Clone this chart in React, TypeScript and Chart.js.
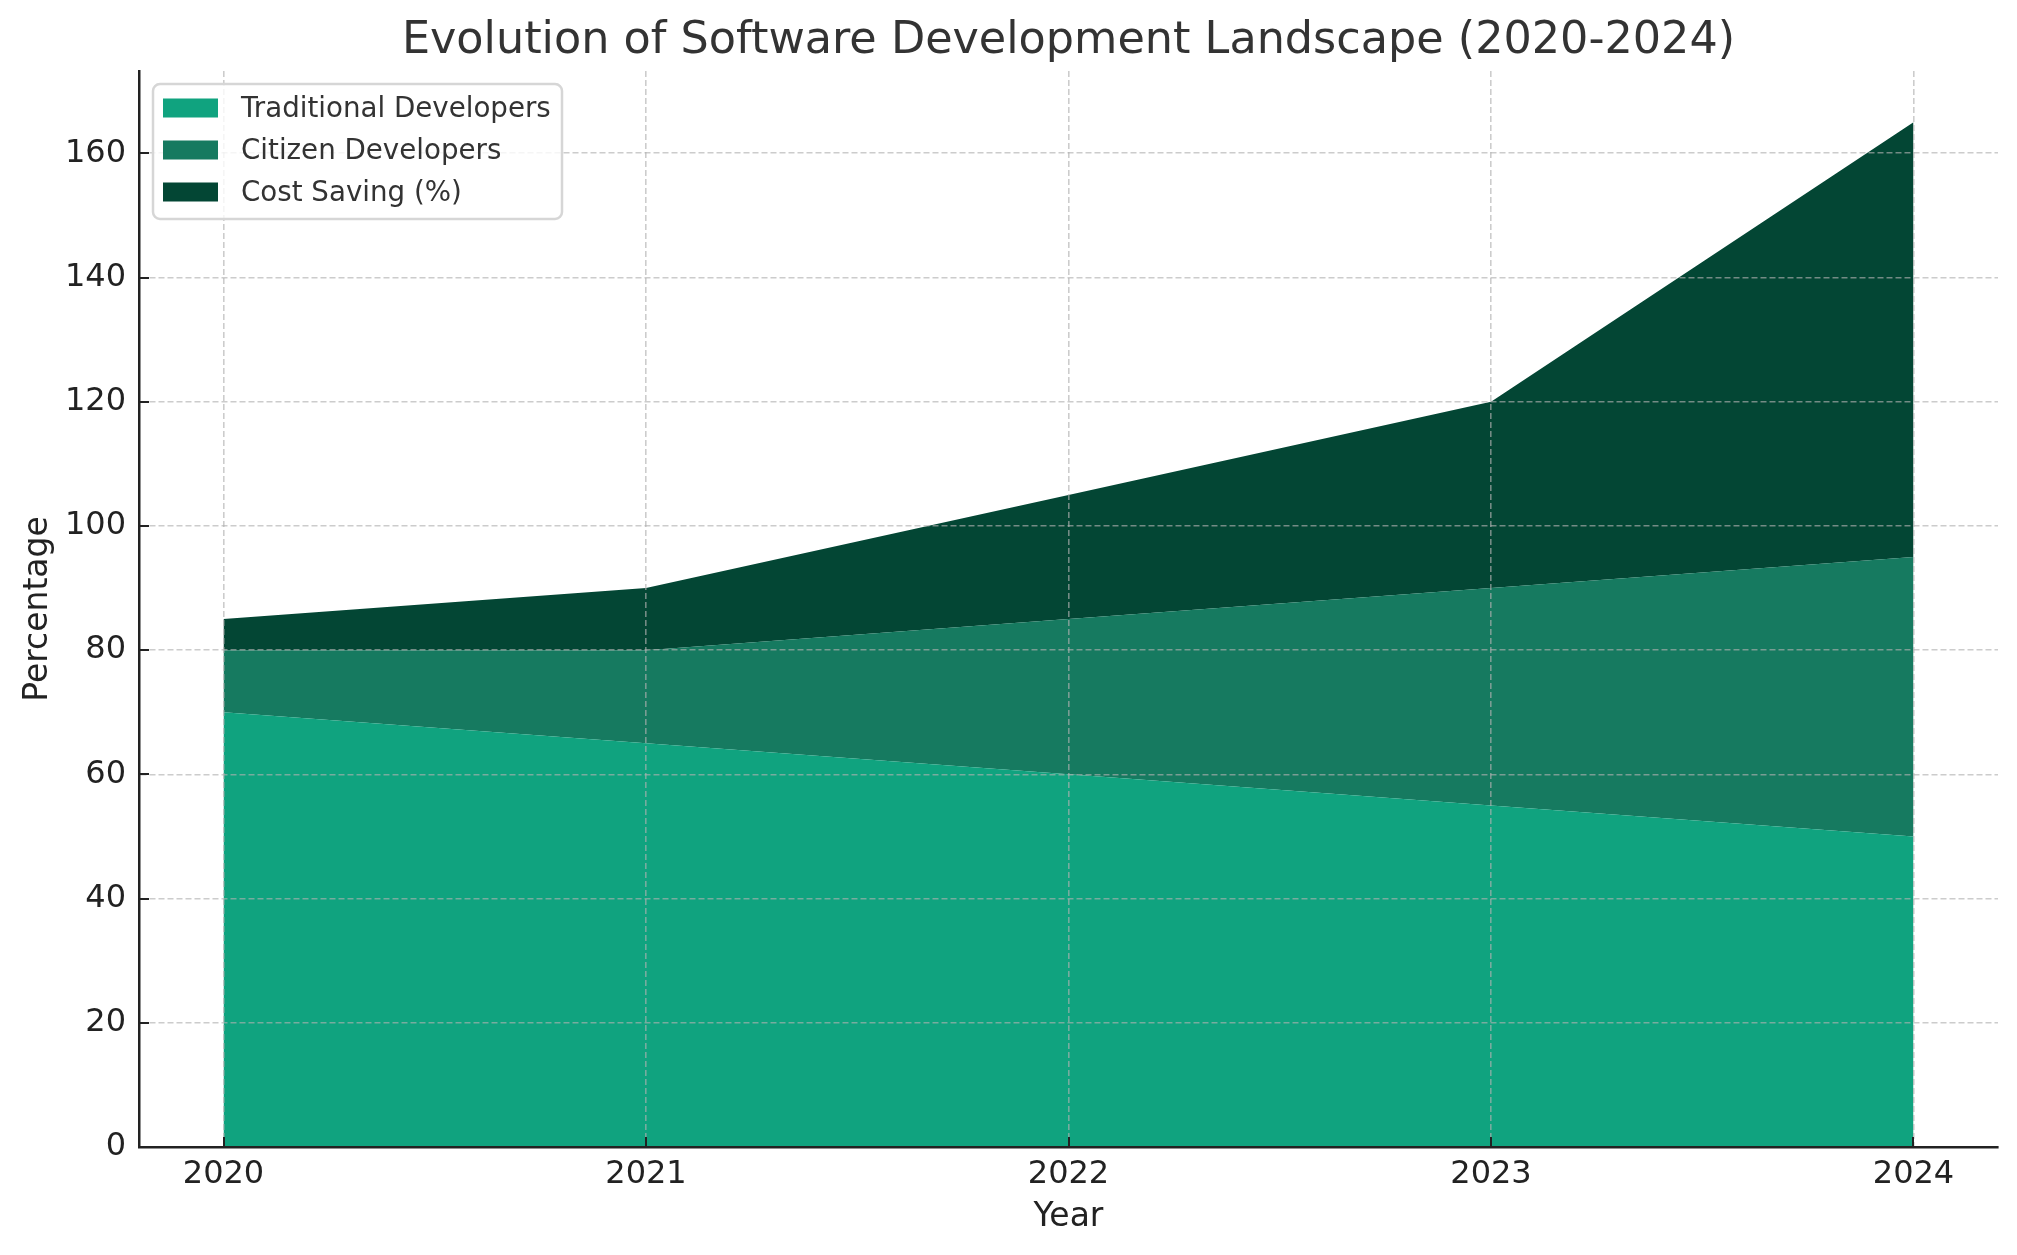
import { useEffect, useRef } from "react";
import { Chart, registerables } from "chart.js";

Chart.register(...registerables);

const years = [2020, 2021, 2022, 2023, 2024];
const traditional = [70, 65, 60, 55, 50];
const citizen = [10, 15, 25, 35, 45];
const costSaving = [5, 10, 20, 30, 70];
const seriesNames = ["Traditional Developers", "Citizen Developers", "Cost Saving (%)"];
const seriesColors = ["#10a37f", "#167a60", "#034634"];
const yTicks = [0, 20, 40, 60, 80, 100, 120, 140, 160];

const FONT = "DejaVu Sans";

// matplotlib-style inward tick marks
const innerTicks = {
  id: "innerTicks",
  afterDraw(chart: any) {
    const { ctx, chartArea, scales } = chart;
    ctx.save();
    ctx.strokeStyle = "#222";
    ctx.lineWidth = 2;
    ctx.beginPath();
    for (const t of scales.x.ticks) {
      const px = Math.round(scales.x.getPixelForValue(t.value));
      ctx.moveTo(px, chartArea.bottom);
      ctx.lineTo(px, chartArea.bottom - 10);
    }
    for (const t of scales.y.ticks) {
      const py = Math.round(scales.y.getPixelForValue(t.value));
      ctx.moveTo(chartArea.left, py);
      ctx.lineTo(chartArea.left + 10, py);
    }
    ctx.stroke();
    ctx.restore();
  },
};

const titleAndLegend = {
  id: "titleAndLegend",
  afterDraw(chart: any) {
    const { ctx, chartArea } = chart;
    ctx.save();
    ctx.fillStyle = "#333";
    ctx.font = `44.5px "${FONT}"`;
    ctx.textAlign = "center";
    ctx.textBaseline = "middle";
    ctx.fillText(
      "Evolution of Software Development Landscape (2020-2024)",
      (chartArea.left + chartArea.right) / 2,
      41
    );

    // legend box
    const bx = 153, by = 84, bw = 409, bh = 135, r = 7;
    ctx.beginPath();
    ctx.roundRect(bx, by, bw, bh, r);
    ctx.fillStyle = "rgba(255,255,255,0.8)";
    ctx.fill();
    ctx.strokeStyle = "#d6d6d6";
    ctx.lineWidth = 2.5;
    ctx.stroke();

    ctx.font = `27.7px "${FONT}"`;
    ctx.textAlign = "left";
    chart.data.datasets.forEach((ds: any, i: number) => {
      const cy = 108 + i * 42;
      ctx.fillStyle = ds.backgroundColor;
      ctx.fillRect(163, cy - 9.5, 55, 19);
      ctx.fillStyle = "#333";
      ctx.fillText(ds.label, 241, cy + 2);
    });
    ctx.restore();
  },
};

export default function App() {
  const canvasRef = useRef<HTMLCanvasElement>(null);
  const chartRef = useRef<Chart | null>(null);

  useEffect(() => {
    document.body.style.margin = "0";
    if (!canvasRef.current) return;
    chartRef.current?.destroy();

    Chart.defaults.font.family = FONT;
    const series = [traditional, citizen, costSaving];

    chartRef.current = new Chart(canvasRef.current, {
      type: "line",
      data: {
        datasets: series.map((vals, i) => ({
          label: seriesNames[i],
          data: years.map((yr, j) => ({ x: yr, y: vals[j] })),
          backgroundColor: seriesColors[i],
          borderWidth: 0,
          pointRadius: 0,
          tension: 0,
          fill: i === 0 ? "origin" : "-1",
        })),
      },
      options: {
        animation: false,
        responsive: true,
        maintainAspectRatio: false,
        devicePixelRatio: 1,
        layout: { padding: { left: 0, right: 19, top: 71, bottom: 0 } },
        plugins: {
          legend: { display: false },
          title: { display: false },
          tooltip: { enabled: false },
        },
        scales: {
          x: {
            type: "linear",
            min: 2019.8,
            max: 2024.2,
            afterBuildTicks: (s: any) => {
              s.ticks = years.map((v) => ({ value: v }));
            },
            afterFit: (s: any) => {
              s.height = 108;
            },
            ticks: {
              color: "#222",
              font: { size: 32 },
              padding: 8,
              maxRotation: 0,
              autoSkip: false,
              callback: (v: any) => String(v),
            },
            grid: {
              color: "rgba(176,176,176,0.65)",
              lineWidth: 1.6,
              drawTicks: false,
              z: 1,
            },
            border: { color: "#222", width: 2.5, dash: [6, 3], z: 2 },
            title: {
              display: true,
              text: "Year",
              color: "#222",
              font: { size: 33 },
              padding: { top: 0, bottom: 18 },
            },
          },
          y: {
            type: "linear",
            min: 0,
            max: 173.25,
            stacked: true,
            afterBuildTicks: (s: any) => {
              s.ticks = yTicks.map((v) => ({ value: v }));
            },
            afterFit: (s: any) => {
              s.width = 139;
            },
            ticks: {
              color: "#222",
              font: { size: 32 },
              padding: 13,
              callback: (v: any) => String(v),
            },
            grid: {
              color: "rgba(176,176,176,0.65)",
              lineWidth: 1.6,
              drawTicks: false,
              z: 1,
            },
            border: { color: "#222", width: 2.5, dash: [6, 3], z: 2 },
            title: {
              display: true,
              text: "Percentage",
              color: "#222",
              font: { size: 33 },
              padding: { top: 19, bottom: 0 },
            },
          },
        },
      },
      plugins: [innerTicks, titleAndLegend],
    } as any);

    return () => {
      chartRef.current?.destroy();
      chartRef.current = null;
    };
  }, []);

  return (
    <div style={{ position: "relative", width: 2017, height: 1255 }}>
      <canvas ref={canvasRef} />
    </div>
  );
}
